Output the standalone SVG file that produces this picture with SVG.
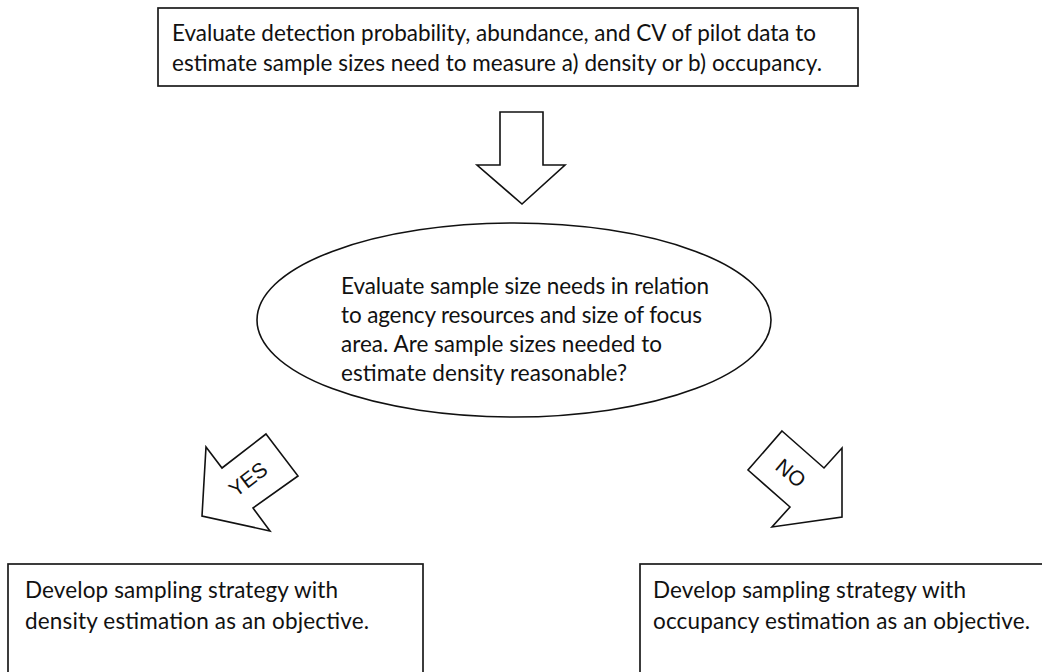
<svg xmlns="http://www.w3.org/2000/svg" width="1042" height="672" viewBox="0 0 1042 672">
  <style>
    .box { fill: #ffffff; stroke: #1a1a1a; stroke-width: 1.7; }
    .shape { fill: #ffffff; stroke: #111111; stroke-width: 1.6; stroke-linejoin: miter; }
    .txt { font-family: Lato, "Open Sans", "Liberation Sans", sans-serif; font-size: 22.5px; fill: #111111; }
    .lbl { font-family: "Liberation Sans", Arial, sans-serif; font-size: 21px; fill: #111111; text-anchor: middle; dominant-baseline: central; }
  </style>
  <rect width="1042" height="672" fill="#ffffff"/>

  <!-- Step 1: evaluate pilot data -->
  <g id="pilot-data">
    <rect class="box" x="158" y="8" width="700" height="78"/>
    <text class="txt" x="172" y="41" textLength="644" lengthAdjust="spacing">Evaluate detection probability, abundance, and CV of pilot data to</text>
    <text class="txt" x="172" y="71" textLength="650" lengthAdjust="spacing">estimate sample sizes need to measure a) density or b) occupancy.</text>
  </g>

  <!-- Step 2: decision on sample sizes -->
  <g id="decision">
    <ellipse class="shape" cx="514" cy="320" rx="257" ry="97"/>
    <text class="txt" x="341" y="294" textLength="368" lengthAdjust="spacing">Evaluate sample size needs in relation</text>
    <text class="txt" x="341" y="323" textLength="361" lengthAdjust="spacing">to agency resources and size of focus</text>
    <text class="txt" x="341" y="352" textLength="321" lengthAdjust="spacing">area. Are sample sizes needed to</text>
    <text class="txt" x="341" y="381" textLength="286" lengthAdjust="spacing">estimate density reasonable?</text>
  </g>

  <!-- Outcome: density -->
  <g id="density-strategy">
    <rect class="box" x="8" y="564" width="415" height="130"/>
    <text class="txt" x="25" y="598" textLength="313" lengthAdjust="spacing">Develop sampling strategy with</text>
    <text class="txt" x="25" y="629" textLength="344" lengthAdjust="spacing">density estimation as an objective.</text>
  </g>

  <!-- Outcome: occupancy -->
  <g id="occupancy-strategy">
    <rect class="box" x="640" y="564" width="430" height="130"/>
    <text class="txt" x="653" y="598" textLength="313" lengthAdjust="spacing">Develop sampling strategy with</text>
    <text class="txt" x="653" y="629" textLength="377" lengthAdjust="spacing">occupancy estimation as an objective.</text>
  </g>

  <!-- Block arrows linking the steps -->
  <g id="connectors">
    <polygon class="shape" points="500,112 543,112 543,165 565,165 522,204 477,165 500,165"/>
    <g id="yes-arrow">
      <polygon class="shape" points="266,434 298,476 253,508 270,531 202,516 206,447 222,468"/>
      <text class="lbl" transform="translate(248,479) rotate(-37)">YES</text>
    </g>
    <g id="no-arrow">
      <polygon class="shape" points="782,431 824,468 842,448 842,517 772,527 790,507 748,470"/>
      <text class="lbl" transform="translate(791,473) rotate(40)">NO</text>
    </g>
  </g>
</svg>
